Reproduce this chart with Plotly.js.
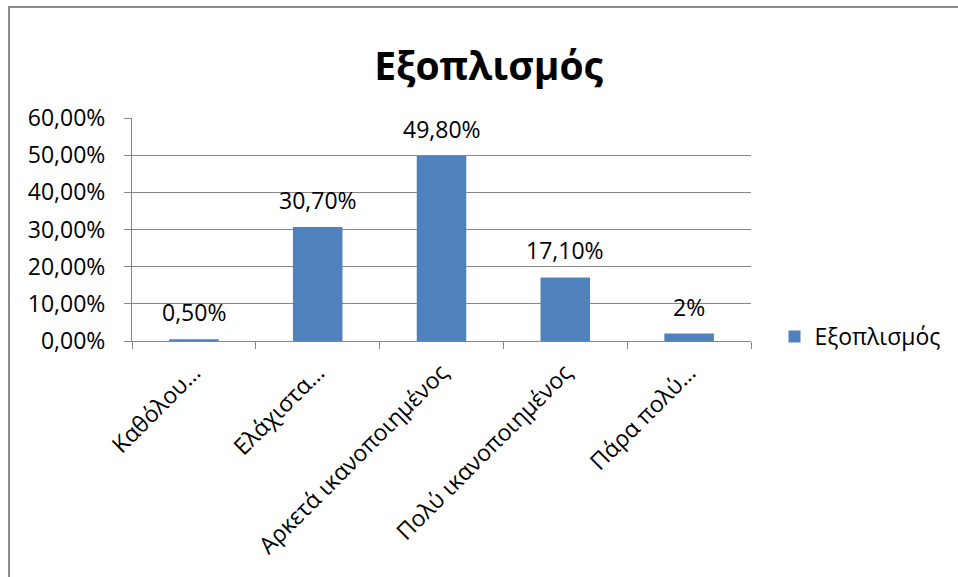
<!DOCTYPE html>
<html><head><meta charset="utf-8">
<script src="https://cdn.plot.ly/plotly-3.0.1.min.js"></script>
<style>
html,body{margin:0;padding:0;background:#fff;overflow:hidden}
#chart{width:958px;height:577px;position:absolute;left:0;top:0}
#frame{position:absolute;left:8px;top:6px;width:1000px;height:700px;border-left:2px solid #8a8a8a;border-top:2px solid #8a8a8a;pointer-events:none;z-index:10}
</style></head><body>
<div id="chart"></div><div id="frame"></div>
<script>
const seriesName = "Εξοπλισμός";
const categories = ["Καθόλου…", "Ελάχιστα…", "Αρκετά ικανοποιημένος", "Πολύ ικανοποιημένος", "Πάρα πολύ…"];
const values = [0.005, 0.307, 0.498, 0.171, 0.02];
const valueLabels = ["0,50%", "30,70%", "49,80%", "17,10%", "2%"];

const FONT = "Open Sans, Noto Sans, sans-serif";
const blue = "#4F81BD";
const grid = "#868686";
const FS = 23;

const trace = {
  type: "bar",
  x: categories,
  y: values,
  name: seriesName,
  marker: {color: blue},
  showlegend: true,
  hoverinfo: "none"
};

const annotations = categories.map((c, i) => ({
  x: c, y: values[i], xref: "x", yref: "y",
  text: valueLabels[i], showarrow: false,
  yanchor: "middle", yshift: 27,
  font: {family: FONT, size: FS, color: "#000"}
}));

const layout = {
  width: 958, height: 577,
  margin: {l: 132, r: 204, t: 118, b: 236, pad: 0},
  paper_bgcolor: "#fff", plot_bgcolor: "#fff",
  separators: ",.",
  title: {text: "<b>" + seriesName + "</b>", x: 0.51, xanchor: "center", y: 0.885, yanchor: "middle",
          font: {family: FONT, size: 39, color: "#000"}},
  font: {family: FONT, size: FS, color: "#000"},
  bargap: 0.6,
  xaxis: {
    type: "category",
    tickangle: -45,
    showline: true, linecolor: grid, linewidth: 1,
    ticks: "outside", ticklen: 7, tickcolor: grid, tickson: "boundaries",
    ticklabelstandoff: 8,
    showgrid: false,
    tickfont: {family: FONT, size: FS, color: "#000"}
  },
  yaxis: {
    range: [0, 0.6],
    tickvals: [0, 0.1, 0.2, 0.3, 0.4, 0.5, 0.6],
    tickformat: ".2%",
    showline: true, linecolor: grid, linewidth: 1,
    ticks: "outside", ticklen: 7, tickcolor: grid,
    ticklabelstandoff: 14,
    showgrid: true, gridcolor: grid, gridwidth: 1,
    zeroline: false,
    tickfont: {family: FONT, size: FS, color: "#000"}
  },
  legend: {x: 1.038, xanchor: "left", y: 0.02, yanchor: "middle",
           font: {family: FONT, size: FS, color: "#000"}, bgcolor: "rgba(0,0,0,0)"},
  annotations: annotations
};

Plotly.newPlot("chart", [trace], layout, {displayModeBar: false, staticPlot: true});
</script>
</body></html>
